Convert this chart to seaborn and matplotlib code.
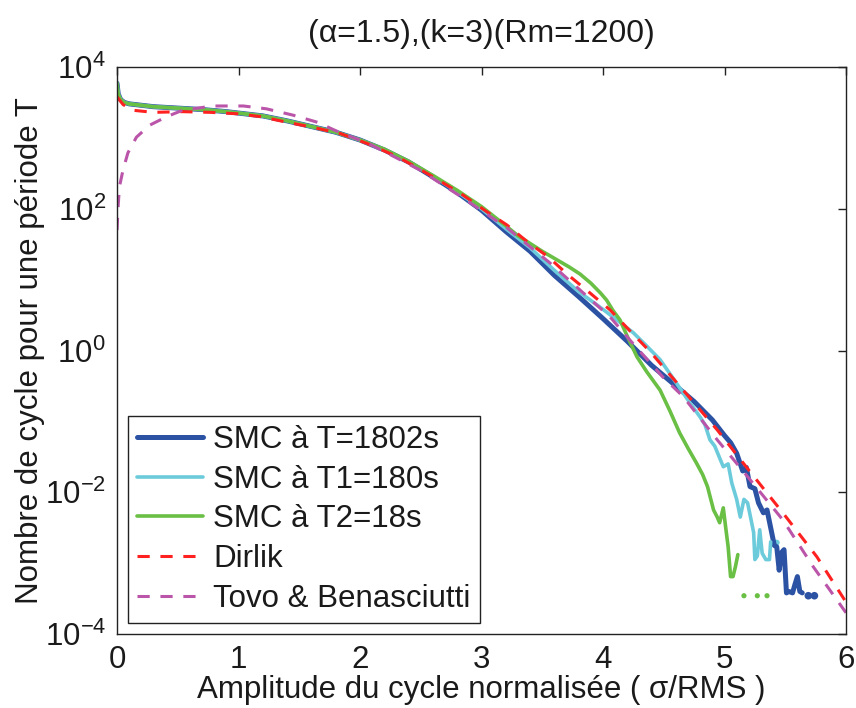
import numpy as np
import pandas as pd
import matplotlib
matplotlib.use("Agg")
import matplotlib.pyplot as plt
import seaborn as sns
from matplotlib.ticker import NullLocator, FixedLocator, LogFormatterSciNotation

# ---------------- data (log10 of cycle counts) ----------------
blue_x = [0.0, 0.01, 0.03, 0.06, 0.10, 0.2, 0.3, 0.5, 0.7, 0.9, 1.0, 1.2, 1.4, 1.6, 1.8, 2.0,
          2.2, 2.4, 2.6, 2.8, 3.0, 3.2, 3.4, 3.6, 3.8, 4.0, 4.2, 4.4, 4.6, 4.75, 4.9, 5.0,
          5.05, 5.1, 5.15, 5.18, 5.21, 5.25, 5.28, 5.32, 5.35, 5.38, 5.41, 5.43, 5.45, 5.47,
          5.49, 5.51, 5.53, 5.56, 5.58, 5.60, 5.62, 5.64]
blue_log = [3.77, 3.62, 3.54, 3.50, 3.48, 3.46, 3.44, 3.42, 3.40, 3.37, 3.35, 3.31, 3.24, 3.16,
            3.08, 2.97, 2.83, 2.66, 2.45, 2.23, 1.98, 1.68, 1.40, 1.06, 0.76, 0.45, 0.13, -0.21,
            -0.50, -0.72, -0.98, -1.20, -1.30, -1.45, -1.70, -1.65, -1.92, -1.95, -2.15, -2.29,
            -2.25, -2.50, -2.75, -2.77, -3.10, -2.85, -2.81, -3.42, -3.40, -3.42, -3.30, -3.19,
            -3.40, -3.42]
blue_dots_x = [5.69, 5.74]
blue_dots_log = [-3.46, -3.46]

cyan_x = [0.0, 0.01, 0.03, 0.06, 0.10, 0.2, 0.3, 0.5, 0.7, 0.9, 1.0, 1.2, 1.4, 1.6, 1.8, 2.0,
          2.2, 2.4, 2.6, 2.8, 3.0, 3.2, 3.4, 3.6, 3.8, 4.0, 4.1, 4.25, 4.35, 4.47, 4.56, 4.66,
          4.72, 4.80, 4.84, 4.88, 4.92, 4.99, 5.03, 5.06, 5.10, 5.13, 5.16, 5.19, 5.22, 5.24,
          5.25, 5.27, 5.29, 5.31, 5.34, 5.37, 5.38]
cyan_log = [3.77, 3.62, 3.54, 3.50, 3.48, 3.46, 3.44, 3.42, 3.40, 3.37, 3.35, 3.31, 3.24, 3.16,
            3.08, 2.97, 2.83, 2.66, 2.46, 2.24, 2.00, 1.72, 1.45, 1.13, 0.83, 0.58, 0.45, 0.25,
            0.08, -0.13, -0.35, -0.60, -0.75, -0.94, -1.05, -1.26, -1.35, -1.64, -1.60, -1.87,
            -2.10, -2.35, -2.10, -2.15, -2.40, -2.57, -2.95, -2.90, -2.53, -2.86, -2.95, -2.95,
            -2.70]
cyan_dots_x = [5.43]
cyan_dots_log = [-2.71]

green_x = [0.0, 0.01, 0.03, 0.06, 0.10, 0.2, 0.3, 0.5, 0.7, 0.9, 1.0, 1.2, 1.4, 1.6, 1.8, 2.0,
           2.2, 2.4, 2.6, 2.8, 3.0, 3.2, 3.3, 3.4, 3.5, 3.62, 3.72, 3.81, 3.9, 3.98, 4.03, 4.08,
           4.14, 4.2, 4.28, 4.36, 4.47, 4.55, 4.63, 4.7, 4.77, 4.82, 4.86, 4.91, 4.94, 4.96,
           4.99, 5.01, 5.03, 5.05, 5.07, 5.09, 5.11]
green_log = [3.77, 3.62, 3.54, 3.50, 3.48, 3.46, 3.44, 3.42, 3.40, 3.37, 3.35, 3.31, 3.24, 3.16,
             3.08, 2.97, 2.84, 2.67, 2.47, 2.26, 2.03, 1.76, 1.62, 1.51, 1.40, 1.28, 1.18, 1.08,
             0.95, 0.81, 0.71, 0.57, 0.43, 0.20, -0.09, -0.30, -0.56, -0.85, -1.16, -1.38,
             -1.59, -1.75, -1.92, -2.25, -2.35, -2.43, -2.22, -2.50, -2.77, -3.19, -3.19,
             -3.05, -2.88]
green_dots_x = [5.16, 5.27, 5.35]
green_dots_log = [-3.46, -3.46, -3.46]

dirlik_x = [0.0, 0.05, 0.13, 0.3, 0.54, 0.77, 0.99, 1.18, 1.40, 1.61, 1.84, 2.06, 2.30, 2.47,
            2.66, 2.85, 3.05, 3.21, 3.38, 3.55, 3.71, 3.88, 4.06, 4.22, 4.39, 4.66, 4.94, 5.21,
            5.48, 5.76, 6.0]
dirlik_log = [3.58, 3.47, 3.39, 3.36, 3.37, 3.36, 3.34, 3.30, 3.22, 3.15, 3.06, 2.92, 2.74,
              2.58, 2.39, 2.19, 1.95, 1.77, 1.53, 1.32, 1.07, 0.83, 0.57, 0.28, -0.02, -0.56,
              -1.12, -1.71, -2.29, -2.91, -3.55]

tovo_x = [0.0, 0.01, 0.02, 0.05, 0.09, 0.16, 0.27, 0.41, 0.54, 0.79, 1.04, 1.23, 1.45, 1.65,
          1.84, 2.06, 2.49, 2.85, 3.21, 3.56, 4.06, 4.22, 4.49, 4.66, 4.94, 5.19, 5.48, 5.73, 6.0]
tovo_log = [1.70, 2.05, 2.31, 2.55, 2.79, 3.01, 3.18, 3.30, 3.39, 3.45, 3.45, 3.41, 3.32, 3.22,
            3.07, 2.93, 2.55, 2.15, 1.73, 1.24, 0.47, 0.15, -0.37, -0.65, -1.26, -1.78, -2.39,
            -3.05, -3.70]

labels = ["SMC à T=1802s", "SMC à T1=180s", "SMC à T2=18s", "Dirlik", "Tovo & Benasciutti"]
title = "(α=1.5),(k=3)(Rm=1200)"
xlabel = "Amplitude du cycle normalisée ( σ/RMS )"
ylabel = "Nombre de cycle pour une période T"
x_ticks = [0, 1, 2, 3, 4, 5, 6]
y_ticks = [1e-4, 1e-2, 1e0, 1e2, 1e4]

# ---------------- style ----------------
sns.set_theme(style="white")
plt.rcParams["font.family"] = ["Liberation Sans", "DejaVu Sans"]
plt.rcParams["mathtext.fontset"] = "custom"
plt.rcParams["mathtext.rm"] = "Liberation Sans"
plt.rcParams["mathtext.it"] = "Liberation Sans:italic"
plt.rcParams["mathtext.bf"] = "Liberation Sans:bold"

C_BLUE = "#2c52a4"
C_CYAN = "#6ccbdb"
C_GREEN = "#6abf45"
C_RED = "#ff2020"
C_MAG = "#bb55aa"
C_TXT = "#1a1a1a"

fig = plt.figure(figsize=(8.56, 7.08), dpi=100)
ax = fig.add_axes([117 / 856, 1 - 634 / 708, (846 - 117) / 856, (634 - 67) / 708])


def series(x, lg):
    return pd.DataFrame({"x": x, "y": np.power(10.0, lg)})


sns.lineplot(data=series(blue_x, blue_log), x="x", y="y", ax=ax, color=C_BLUE, lw=3.6,
             estimator=None, sort=False, label=labels[0])
sns.lineplot(data=series(cyan_x, cyan_log), x="x", y="y", ax=ax, color=C_CYAN, lw=2.6,
             estimator=None, sort=False, label=labels[1])
sns.lineplot(data=series(green_x, green_log), x="x", y="y", ax=ax, color=C_GREEN, lw=2.6,
             estimator=None, sort=False, label=labels[2])
sns.lineplot(data=series(dirlik_x, dirlik_log), x="x", y="y", ax=ax, color=C_RED, lw=2.2,
             estimator=None, sort=False, label=labels[3])
ax.lines[-1].set_dashes([4.0, 3.5])
sns.lineplot(data=series(tovo_x, tovo_log), x="x", y="y", ax=ax, color=C_MAG, lw=2.2,
             estimator=None, sort=False, label=labels[4])
ax.lines[-1].set_dashes([4.0, 3.5])

sns.scatterplot(data=series(blue_dots_x, blue_dots_log), x="x", y="y", ax=ax, color=C_BLUE,
                s=30, edgecolor="none", legend=False)
sns.scatterplot(data=series(cyan_dots_x, cyan_dots_log), x="x", y="y", ax=ax, color=C_CYAN,
                s=18, edgecolor="none", legend=False)
sns.scatterplot(data=series(green_dots_x, green_dots_log), x="x", y="y", ax=ax, color=C_GREEN,
                s=14, edgecolor="none", legend=False)

ax.set_yscale("log")
ax.set_xlim(0, 6)
ax.set_ylim(1e-4, 1e4)
ax.xaxis.set_major_locator(FixedLocator(x_ticks))
ax.yaxis.set_major_locator(FixedLocator(y_ticks))
ax.yaxis.set_minor_locator(NullLocator())
ax.xaxis.set_minor_locator(NullLocator())
ax.yaxis.set_major_formatter(LogFormatterSciNotation())

for s in ax.spines.values():
    s.set_color("#222222")
    s.set_linewidth(1.0)
ax.tick_params(axis="both", which="major", direction="in", length=6, width=1,
               top=True, right=True, labelsize=22.5, colors="#222222", labelcolor=C_TXT,
               pad=8)

ax.set_title(title, fontsize=23, pad=18, color=C_TXT)
ax.set_xlabel(xlabel, fontsize=22.5, labelpad=0, color=C_TXT)
ax.set_ylabel(ylabel, fontsize=22.5, labelpad=0, color=C_TXT)

leg = ax.legend(loc="lower left", bbox_to_anchor=(11 / 729, 11 / 567), borderaxespad=0,
                fontsize=22.5, frameon=True, fancybox=False, edgecolor="#222222",
                framealpha=1, handlelength=2.1, handletextpad=0.32, labelspacing=0.31,
                borderpad=0.3)
leg.get_frame().set_linewidth(1.0)
for t in leg.get_texts():
    t.set_color(C_TXT)

fig.savefig("out.png", dpi=100)
